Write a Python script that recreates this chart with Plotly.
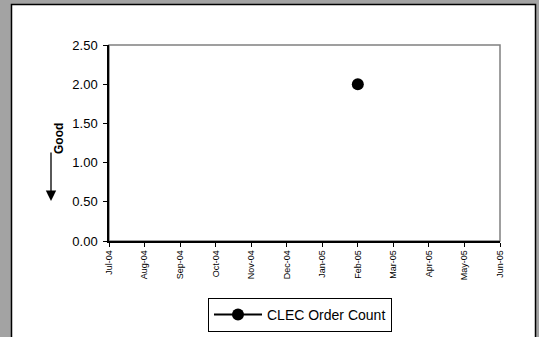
import plotly.graph_objects as go

# monthly categories and the one reported value
months = ["Jul-04", "Aug-04", "Sep-04", "Oct-04", "Nov-04", "Dec-04",
          "Jan-05", "Feb-05", "Mar-05", "Apr-05", "May-05", "Jun-05"]
order_count = [None, None, None, None, None, None,
               None, 2.0, None, None, None, None]
y_ticks = [0, 0.5, 1.0, 1.5, 2.0, 2.5]

W, H = 539, 337
FONT = "Arial, Liberation Sans, sans-serif"

def px_x(v):
    return v / W

def px_y(v):
    return 1 - v / H

fig = go.Figure()
fig.add_trace(go.Scatter(
    x=months, y=order_count, name="CLEC Order Count",
    mode="lines+markers",
    line=dict(color="black", width=2),
    marker=dict(color="black", size=12),
    connectgaps=False,
))

fig.update_layout(
    width=W, height=H,
    margin=dict(l=0, r=0, t=0, b=0, autoexpand=False),
    paper_bgcolor="#a3a3a3",
    plot_bgcolor="white",
    font=dict(family=FONT, color="black"),
    showlegend=True,
    legend=dict(
        x=px_x(208), y=px_y(298), xanchor="left", yanchor="top",
        bgcolor="white", bordercolor="black", borderwidth=1,
        font=dict(size=14, family=FONT), itemwidth=48,
    ),
    xaxis=dict(
        type="category", domain=[px_x(109), px_x(500)],
        range=[0, len(months) - 1], automargin=False,
        tickangle=-90, tickfont=dict(size=9),
        ticks="outside", ticklen=4, tickcolor="black",
        showline=True, linecolor="black", linewidth=1.5,
        showgrid=False, zeroline=False, fixedrange=True,
    ),
    yaxis=dict(
        domain=[px_y(241), px_y(45)], automargin=False,
        range=[0, 2.5], tickvals=y_ticks, tickformat=".2f",
        tickfont=dict(size=13), ticklabelstandoff=3,
        ticks="outside", ticklen=4, tickcolor="black",
        showline=True, linecolor="black", linewidth=1.5,
        showgrid=False, zeroline=False, fixedrange=True,
    ),
    shapes=[
        # white chart panel with dark frame
        dict(type="rect", xref="paper", yref="paper", layer="below",
             x0=px_x(11.5), x1=px_x(535.5), y0=-0.05, y1=px_y(4.5),
             fillcolor="white", line=dict(color="black", width=1.5)),
        # grey frame on top/right of plot area
        dict(type="rect", xref="paper", yref="paper", layer="below",
             x0=px_x(109), x1=px_x(500), y0=px_y(241), y1=px_y(45),
             line=dict(color="#808080", width=1.5)),
    ],
    annotations=[
        dict(text="<b>Good</b>", xref="paper", yref="paper",
             x=px_x(50), y=px_y(138), textangle=-90, showarrow=False,
             font=dict(size=12, family=FONT)),
        dict(text="", xref="paper", yref="paper",
             x=px_x(51), y=px_y(201), ax=0, ay=-50,
             showarrow=True, arrowhead=2, arrowsize=1.6, arrowwidth=1.3,
             arrowcolor="black"),
    ],
)

# drop the browser's default page margin so the figure sits at 0,0
fig.write_html("out.html", config={"displayModeBar": False},
               post_script="document.body.style.margin='0';")
